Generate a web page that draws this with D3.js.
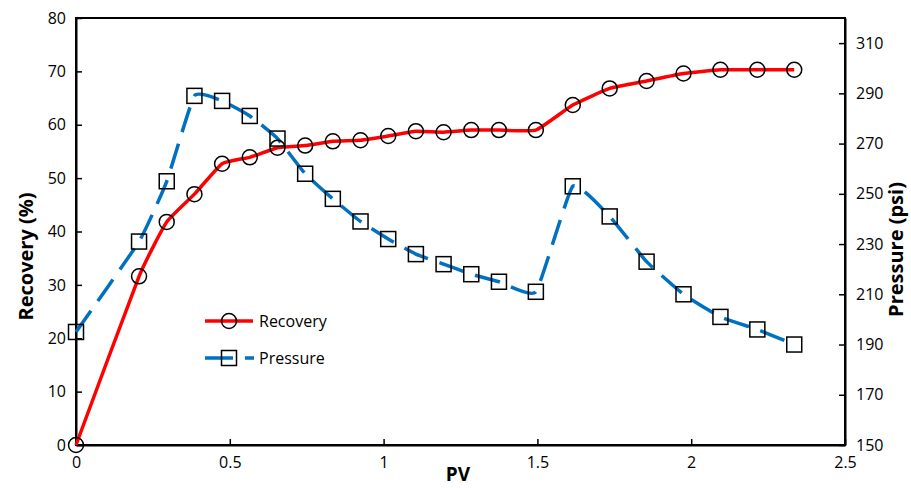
<!DOCTYPE html>
<html>
<head>
<meta charset="utf-8">
<script src="https://cdn.jsdelivr.net/npm/d3@7"></script>
<style>
html,body{margin:0;padding:0;background:#fff;}
svg{display:block;}
text{font-family:"Open Sans",sans-serif;fill:#000;}
</style>
</head>
<body>
<svg id="chart" width="911" height="488"></svg>
<script>
const pv = [0, 0.205, 0.295, 0.385, 0.475, 0.565, 0.655, 0.745, 0.835, 0.925, 1.015, 1.105, 1.195, 1.285, 1.375, 1.495, 1.615, 1.735, 1.855, 1.975, 2.095, 2.215, 2.335];
const recovery = [0, 31.6, 41.8, 47.0, 52.7, 53.9, 55.7, 56.1, 56.9, 57.1, 57.9, 58.8, 58.6, 59.0, 59.0, 59.0, 63.7, 66.8, 68.2, 69.6, 70.3, 70.3, 70.3];
const pressure = [195, 231, 255, 289, 287, 281, 272, 258, 248, 239, 232, 226, 222, 218, 215, 211, 253, 241, 223, 210, 201, 196, 190];
const xTicks = [0, 0.5, 1, 1.5, 2, 2.5];
const leftTicks = [0, 10, 20, 30, 40, 50, 60, 70, 80];
const rightTicks = [150, 170, 190, 210, 230, 250, 270, 290, 310];
const seriesNames = ["Recovery", "Pressure"];

const svg = d3.select("#chart");
const L = 76, R = 845, T = 18, B = 445;
const x = d3.scaleLinear().domain([0, 2.5]).range([L, R]);
const yL = d3.scaleLinear().domain([0, 80]).range([B, T]);
const yR = d3.scaleLinear().domain([150, 320]).range([B, T]);

const redC = "#FF0000", blueC = "#0070C0";

// frame
svg.append("rect").attr("x", L).attr("y", T).attr("width", R - L).attr("height", B - T)
  .attr("fill", "none").attr("stroke", "#000").attr("stroke-width", 2);

// axes
const fs = "16px";
const xAxis = svg.append("g").attr("transform", `translate(0,${B})`)
  .call(d3.axisBottom(x).tickValues(xTicks).tickFormat(d3.format("")).tickSizeInner(-6).tickSizeOuter(0).tickPadding(12));
const yAxisL = svg.append("g").attr("transform", `translate(${L},0)`)
  .call(d3.axisLeft(yL).tickValues(leftTicks).tickSizeInner(-6).tickSizeOuter(0).tickPadding(10));
const yAxisR = svg.append("g").attr("transform", `translate(${R},0)`)
  .call(d3.axisRight(yR).tickValues(rightTicks).tickSizeInner(-6).tickSizeOuter(0).tickPadding(11));
[xAxis, yAxisL, yAxisR].forEach(g => {
  g.select(".domain").attr("stroke", "#000").attr("stroke-width", 2);
  g.selectAll(".tick line").attr("stroke", "#000").attr("stroke-width", 1.5);
  g.selectAll(".tick text").style("font-family", '"Open Sans",sans-serif').style("font-size", fs).attr("fill", "#000");
});

// axis titles
svg.append("text").attr("x", 458).attr("y", 481).attr("text-anchor", "middle")
  .style("font-size", "19px").style("font-weight", "bold").text("PV");
svg.append("text").attr("transform", `translate(33,${(T + B) / 2 + 25}) rotate(-90)`).attr("text-anchor", "middle")
  .style("font-size", "20px").style("font-weight", "bold").text("Recovery (%)");
svg.append("text").attr("transform", `translate(903,${(T + B) / 2 + 18}) rotate(-90)`).attr("text-anchor", "middle")
  .style("font-size", "20px").style("font-weight", "bold").text("Pressure (psi)");

const recData = pv.map((v, i) => [v, recovery[i]]);
const presData = pv.map((v, i) => [v, pressure[i]]);

const curve = d3.curveCardinal.tension(0.6);
const lineRec = d3.line().x(d => x(d[0])).y(d => yL(d[1])).curve(curve);
const linePres = d3.line().x(d => x(d[0])).y(d => yR(d[1])).curve(curve);

svg.append("path").datum(recData).attr("d", lineRec).attr("fill", "none")
  .attr("stroke", redC).attr("stroke-width", 3.5);
svg.append("path").datum(presData).attr("d", linePres).attr("fill", "none")
  .attr("stroke", blueC).attr("stroke-width", 3.5).attr("stroke-dasharray", "26,12");

const r = 7.5, s = 15;
svg.append("g").selectAll("circle").data(recData).join("circle")
  .attr("cx", d => x(d[0])).attr("cy", d => yL(d[1])).attr("r", r)
  .attr("fill", "none").attr("stroke", "#000").attr("stroke-width", 1.5);
svg.append("g").selectAll("rect").data(presData).join("rect")
  .attr("x", d => x(d[0]) - s / 2).attr("y", d => yR(d[1]) - s / 2).attr("width", s).attr("height", s)
  .attr("fill", "none").attr("stroke", "#000").attr("stroke-width", 1.5);

// legend
const lg = svg.append("g");
const ly = [321, 358];
lg.append("line").attr("x1", 205).attr("x2", 253).attr("y1", ly[0]).attr("y2", ly[0])
  .attr("stroke", redC).attr("stroke-width", 3.5);
lg.append("circle").attr("cx", 229).attr("cy", ly[0]).attr("r", r)
  .attr("fill", "none").attr("stroke", "#000").attr("stroke-width", 1.5);
lg.append("line").attr("x1", 205).attr("x2", 254).attr("y1", ly[1]).attr("y2", ly[1])
  .attr("stroke", blueC).attr("stroke-width", 3.5).attr("stroke-dasharray", "28,12");
lg.append("rect").attr("x", 229 - s / 2).attr("y", ly[1] - s / 2).attr("width", s).attr("height", s)
  .attr("fill", "none").attr("stroke", "#000").attr("stroke-width", 1.5);
seriesNames.forEach((n, i) => {
  lg.append("text").attr("x", 259).attr("y", ly[i]).attr("dy", "0.35em")
    .style("font-size", fs).text(n);
});
</script>
</body>
</html>
